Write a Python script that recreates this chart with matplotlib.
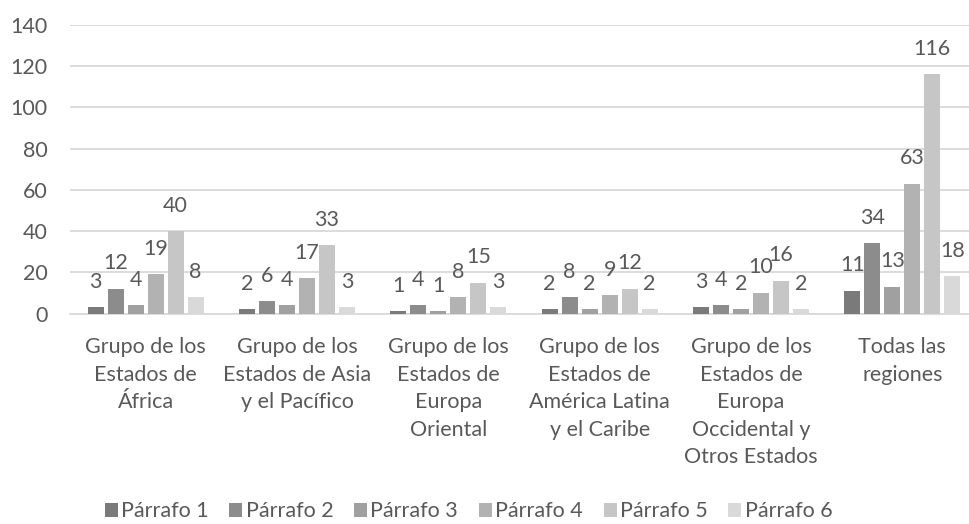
import numpy as np
import matplotlib.pyplot as plt

plt.rcParams['font.family'] = ['Lato', 'DejaVu Sans']

# Datos
grupos = ["Grupo de los\nEstados de\nÁfrica",
          "Grupo de los\nEstados de Asia\ny el Pacífico",
          "Grupo de los\nEstados de\nEuropa\nOriental",
          "Grupo de los\nEstados de\nAmérica Latina\ny el Caribe",
          "Grupo de los\nEstados de\nEuropa\nOccidental y\nOtros Estados",
          "Todas las\nregiones"]
series = ["Párrafo 1", "Párrafo 2", "Párrafo 3", "Párrafo 4", "Párrafo 5", "Párrafo 6"]
p1 = [3, 2, 1, 2, 3, 11]
p2 = [12, 6, 4, 8, 4, 34]
p3 = [4, 4, 1, 2, 2, 13]
p4 = [19, 17, 8, 9, 10, 63]
p5 = [40, 33, 15, 12, 16, 116]
p6 = [8, 3, 3, 2, 2, 18]
valores = [p1, p2, p3, p4, p5, p6]
colores = ["#7a7a7a", "#8c8c8c", "#a0a0a0", "#b2b2b2", "#c6c6c6", "#d9d9d9"]
gris_texto = "#595959"
fs = 15.5

fig = plt.figure(figsize=(9.7, 5.24), dpi=100)
ax = fig.add_axes([70/970, 1 - 313.5/524, 908/970, 288.5/524])

x = np.arange(len(grupos))
paso = 20/151.3
ancho = 16/151.3
for i, (serie, vals) in enumerate(zip(series, valores)):
    pos = x + (i - 2.5)*paso
    ax.bar(pos, vals, ancho, color=colores[i], label=serie, zorder=3)
    for xp, v in zip(pos, vals):
        ax.annotate(str(v), (xp, v), xytext=(0, 14), textcoords='offset points',
                    ha='center', va='baseline', fontsize=fs, color=gris_texto)

ax.set_xlim(-0.5, 5.5)
ax.set_ylim(0, 140)
ax.set_yticks(range(0, 141, 20))
ax.yaxis.grid(True, color="#d9d9d9", linewidth=1.3, zorder=0)
for s in ["top", "right", "left"]:
    ax.spines[s].set_visible(False)
ax.spines["bottom"].set_color("#d9d9d9")
ax.spines["bottom"].set_linewidth(1.3)
ax.tick_params(axis='both', length=0, labelsize=fs, labelcolor=gris_texto)
ax.tick_params(axis='y', pad=16)
ax.tick_params(axis='x', pad=17)
ax.set_xticks(x)
ax.set_xticklabels(grupos, linespacing=1.47)

fig.legend(loc='lower center', bbox_to_anchor=(0.483, -0.032), ncol=6, frameon=False,
           fontsize=fs, labelcolor=gris_texto, handlelength=0.6, handleheight=0.6,
           handletextpad=0.15, columnspacing=0.97)

fig.savefig("out.png", dpi=100)
